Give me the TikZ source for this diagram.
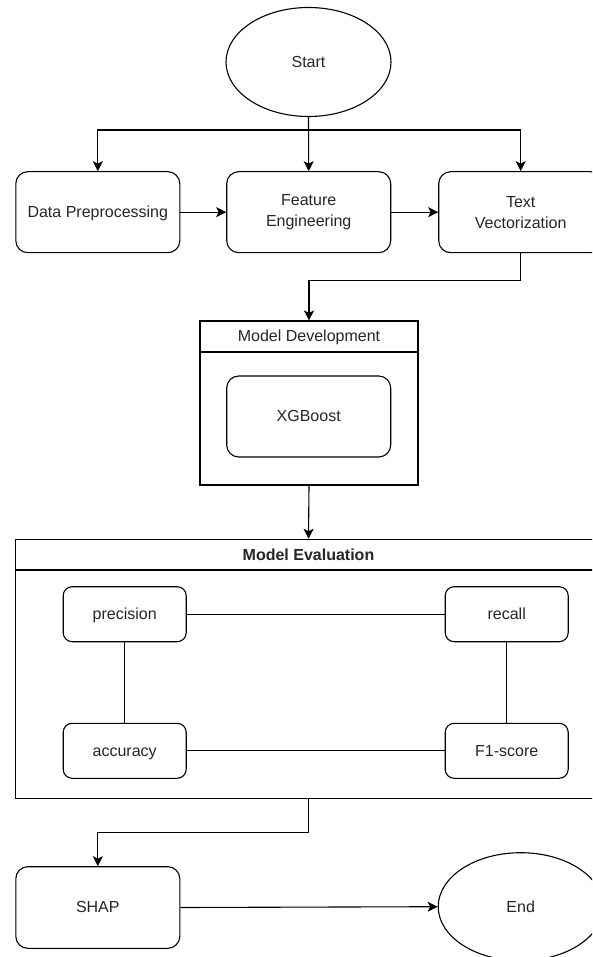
\documentclass[tikz,border=0pt]{standalone}
\usepackage{fontspec}
\setmainfont{Liberation Sans}
\usetikzlibrary{shapes.geometric,arrows.meta}
\begin{document}
\begin{tikzpicture}[x=1pt,y=-1pt,
  every node/.style={font=\fontsize{16}{21}\selectfont, text=black!85},
  one/.style={text height=11.5pt, text depth=0.6pt},
  box/.style={draw, line width=1.1pt, rounded corners=12pt, minimum width=164pt, minimum height=81pt, align=center, inner sep=0pt},
  sbox/.style={draw, line width=1.1pt, rounded corners=9pt, minimum width=123pt, minimum height=55pt, align=center, inner sep=0pt, one},
  oval/.style={draw, line width=1.1pt, ellipse, minimum width=165pt, minimum height=109pt, inner sep=0pt, one},
  frame/.style={draw, line width=1.1pt, inner sep=0pt},
  arr/.style={line width=1.1pt, -{Stealth[length=10pt,width=10pt,inset=2.5pt]}},
  ln/.style={line width=1.1pt}]
\useasboundingbox (0,0) rectangle (592,957);
\clip (0,0) rectangle (592,957);
\fill[white] (0,0) rectangle (592,957);

% top row
\node[oval] (start) at (308.5,62) {Start};
\node[box, one] (dp) at (97.8,212.2) {Data Preprocessing};
\node[box] (fe) at (308.7,212.2) {Feature\\Engineering};
\node[box] (tv) at (520.7,212.2) {Text\\Vectorization};
\coordinate (split) at (308.5,130);

% model development
\node[frame, minimum width=218pt, minimum height=164pt] (md) at (309,403) {};
\coordinate (mdsepl) at (200,352);
\coordinate (mdsepr) at (418,352);
\node[one] (mdtitle) at (309,336.5) {Model Development};
\node[box, one] (xg) at (308.7,416.5) {XGBoost};
\coordinate (mid1) at (309,280.7);

% model evaluation
\node[frame, minimum width=586.4pt, minimum height=259pt] (me) at (308.5,668.8) {};
\coordinate (mesepl) at (15.3,570);
\coordinate (mesepr) at (601.7,570);
\node[one, font=\fontsize{16}{21}\selectfont\bfseries] (metitle) at (308.5,554.7) {Model Evaluation};
\node[sbox] (prec) at (124.7,614.2) {precision};
\node[sbox] (rec) at (506.7,614.2) {recall};
\node[sbox] (acc) at (124.7,750.8) {accuracy};
\node[sbox] (f1) at (506.7,750.8) {F1-score};

% bottom
\node[box, one, minimum height=81.6pt] (shap) at (97.8,907.5) {SHAP};
\node[oval, minimum height=108pt] (end) at (520.7,906.7) {End};
\coordinate (mid2) at (308.5,832.7);

% separators
\draw[ln] (mdsepl) -- (mdsepr);
\draw[ln] (mesepl) -- (mesepr);

% connectors
\draw[arr] (start.south) -- (fe.north);
\draw[arr] (split) -| (dp.north);
\draw[arr] (split) -| (tv.north);
\draw[arr] (dp.east) -- (fe.west);
\draw[arr] (fe.east) -- (tv.west);
\draw[arr] (tv.south) |- (mid1) -- (md.north);
\draw[arr] (md.south) -- (me.north);
\draw[ln] (prec.east) -- (rec.west);
\draw[ln] (prec.south) -- (acc.north);
\draw[ln] (rec.south) -- (f1.north);
\draw[ln] (acc.east) -- (f1.west);
\draw[arr] (me.south) -- (mid2) -| (shap.north);
\draw[arr] (shap.east) -- (end.west);
\end{tikzpicture}
\end{document}
